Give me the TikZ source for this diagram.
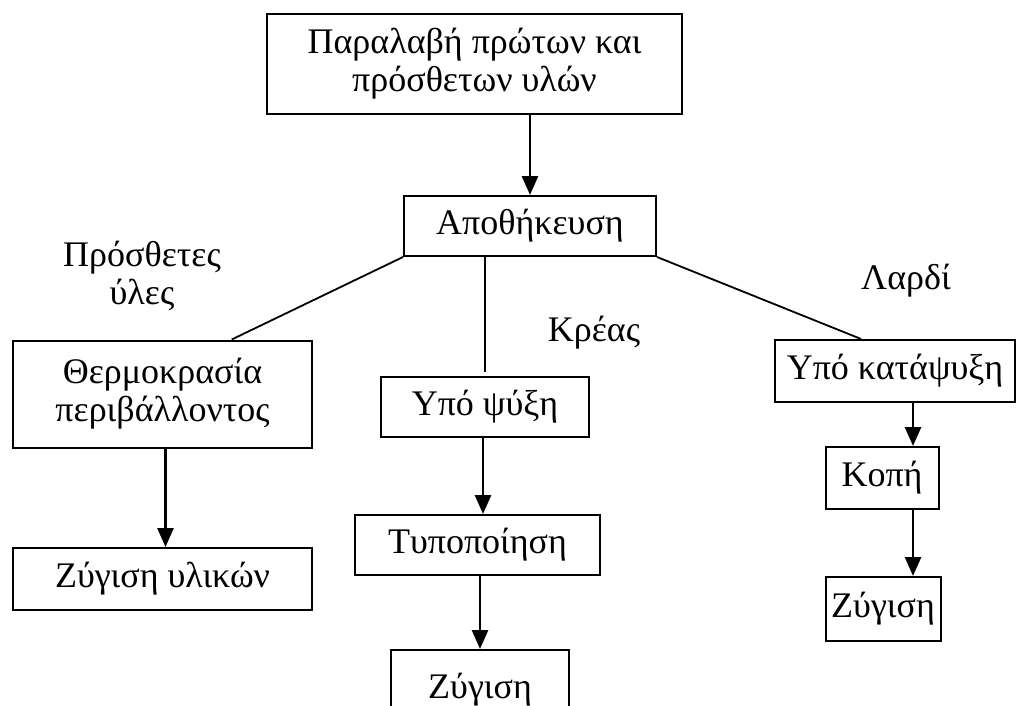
\documentclass[tikz,border=0pt]{standalone}
\usepackage{fontspec}
\setmainfont{Liberation Serif}
\usetikzlibrary{arrows.meta, positioning, calc}
\tikzset{
  every picture/.style={font=\fontsize{18}{19}\selectfont, line width=1pt},
  box/.style={draw, rectangle, align=center, inner sep=2pt, minimum width=#1},
  box/.default=2cm,
  arrow/.style={-{Triangle[length=9.5pt, width=8pt]}, line width=1.4pt},
  link/.style={line width=0.9pt},
  note/.style={align=center},
}
\begin{document}
\begin{tikzpicture}[x=0.5pt, y=-0.5pt]
  \useasboundingbox (0,0) rectangle (1017,706);
  % boxes
  \node[box=207.5pt, minimum height=50pt] (recv) at (474.5, 64) {Παραλαβή πρώτων και\\πρόσθετων υλών};
  \node[box=126pt, minimum height=30pt] (store) at (530, 226) {Αποθήκευση};
  \node[box=149.5pt, minimum height=53.5pt] (ambient) at (162.5, 394) {Θερμοκρασία\\περιβάλλοντος};
  \node[box=104pt, minimum height=30pt] (chill) at (485, 407) {Υπό ψύξη};
  \node[box=120pt, minimum height=31pt] (freeze) at (895, 371) {Υπό κατάψυξη};
  \node[box=149.5pt, minimum height=31pt] (weighmat) at (162.5, 579) {Ζύγιση υλικών};
  \node[box=122.5pt, minimum height=30pt] (shape) at (477.5, 545) {Τυποποίηση};
  \node[box=89pt, minimum height=40pt] (weighmeat) at (480, 690) {Ζύγιση};
  \node[box=56.5pt, minimum height=31pt] (cut) at (882, 478) {Κοπή};
  \node[box=57.5pt, minimum height=32pt] (weighfat) at (883, 609) {Ζύγιση};
  % branch labels
  \node[note] (additives) at (142, 276) {Πρόσθετες\\ύλες};
  \node[note] (meat) at (594, 333) {Κρέας};
  \node[note] (lard) at (906, 281) {Λαρδί};
  % connectors
  \draw[arrow] (recv.south -| store.north) -- (store.north);
  \draw[link] (store.south west) -- ($(ambient.north west)!0.73!(ambient.north east)$);
  \draw[link] (chill.north |- store.south) -- ([yshift=2pt]chill.north);
  \draw[link] (store.south east) -- ($(freeze.north west)!0.36!(freeze.north east)$);
  \draw[arrow] ([xshift=1.5pt]ambient.south) -- ([xshift=1.5pt]weighmat.north);
  \draw[arrow] ([xshift=-1pt]chill.south) -- ([xshift=-1pt]chill.south |- shape.north);
  \draw[arrow] (shape.south -| weighmeat.north) -- (weighmeat.north);
  \coordinate (fz) at ($(freeze.south)+(18,0)$);
  \draw[arrow] (fz) -- (fz |- cut.north);
  \draw[arrow] (fz |- cut.south) -- (fz |- weighfat.north);
\end{tikzpicture}
\end{document}
